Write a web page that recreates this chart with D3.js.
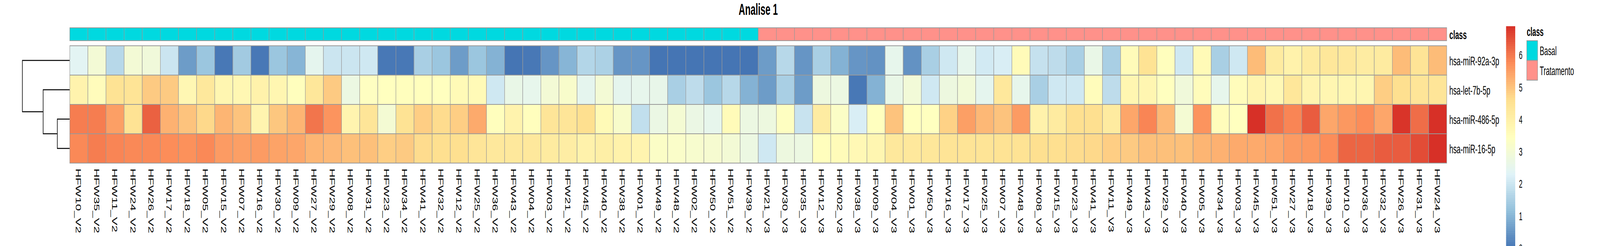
<!DOCTYPE html>
<html lang="en">
<head>
    <meta charset="UTF-8" />
    <script src="https://d3js.org/d3.v7.min.js"></script>
    <title>Analise 1</title>
    <style>
        body { margin: 0; background: white; overflow: hidden; }
        svg { display: block; }
        text { font-family: "Liberation Sans", Arial, sans-serif; fill: #000; }
        .cell { stroke: #999999; stroke-width: 2; }
        .tree { stroke: #000; stroke-width: 2.7; fill: none; }
    </style>
</head>
<body>
    <svg id="chart"></svg>
    <script>
        // samples, in the clustered column order
        const samples = [
            "HFW10_V2", "HFW35_V2", "HFW11_V2", "HFW24_V2", "HFW26_V2", "HFW17_V2", "HFW18_V2", "HFW05_V2",
            "HFW15_V2", "HFW07_V2", "HFW16_V2", "HFW30_V2", "HFW09_V2", "HFW27_V2", "HFW29_V2", "HFW08_V2",
            "HFW31_V2", "HFW23_V2", "HFW34_V2", "HFW41_V2", "HFW32_V2", "HFW12_V2", "HFW25_V2", "HFW36_V2",
            "HFW43_V2", "HFW04_V2", "HFW03_V2", "HFW21_V2", "HFW45_V2", "HFW40_V2", "HFW38_V2", "HFW01_V2",
            "HFW49_V2", "HFW48_V2", "HFW02_V2", "HFW50_V2", "HFW51_V2", "HFW39_V2", "HFW21_V3", "HFW30_V3",
            "HFW35_V3", "HFW12_V3", "HFW02_V3", "HFW38_V3", "HFW09_V3", "HFW04_V3", "HFW01_V3", "HFW50_V3",
            "HFW16_V3", "HFW17_V3", "HFW25_V3", "HFW07_V3", "HFW48_V3", "HFW08_V3", "HFW15_V3", "HFW23_V3",
            "HFW41_V3", "HFW11_V3", "HFW49_V3", "HFW43_V3", "HFW29_V3", "HFW40_V3", "HFW05_V3", "HFW34_V3",
            "HFW03_V3", "HFW45_V3", "HFW51_V3", "HFW27_V3", "HFW18_V3", "HFW39_V3", "HFW10_V3", "HFW36_V3",
            "HFW32_V3", "HFW26_V3", "HFW31_V3", "HFW24_V3"
        ];

        const mirnas = ["hsa-miR-92a-3p", "hsa-let-7b-5p", "hsa-miR-486-5p", "hsa-miR-16-5p"];

        // class levels: visit 2 = Basal, visit 3 = Tratamento
        const classLevels = ["Basal", "Tratamento"];
        const classColors = ["#00D9E0", "#FF918A"];

        // expression values, one array per miRNA (same order as samples)
        const mir92a = [
            2.4, 3.0, 1.7, 3.0, 2.9, 2.0, 0.6, 1.3, 0.05, 1.4, 0.05, 1.3, 1.0,
            2.5, 2.0, 2.0, 2.05, 0.05, 0.05, 1.5, 1.3, 0.6, 1.3, 0.95, 0.0, 0.05, 0.5, 1.0, 1.65,
            1.55, 0.5, 0.5, 0.0, 0.0, 0.0, 0.0, 0.0, 0.0, 0.6, 1.7, 0.5, 1.5, 0.95, 0.5, 0.45,
            2.55, 0.45, 1.5, 2.05, 2.55, 2.1, 2.2, 3.6, 1.9, 1.8, 1.5, 2.65, 1.5, 3.6, 4.5, 3.5,
            2.05, 3.65, 1.5, 2.05, 5.1, 4.2, 3.95, 4.2, 4.35, 4.3, 4.15, 4.2, 5.1, 4.45, 5.1
        ];
        const let7b = [
            3.9, 3.55, 4.5, 4.45, 4.9, 4.9, 3.75, 4.3, 3.8, 3.75, 3.95, 3.8, 3.5,
            4.35, 4.9, 2.75, 3.4, 3.45, 3.5, 3.5, 3.45, 3.65, 3.65, 2.05, 2.65, 2.55, 3.0, 3.2, 2.5,
            3.0, 2.5, 2.55, 2.6, 1.5, 1.8, 1.3, 1.7, 0.95, 0.6, 1.5, 0.6, 2.8, 2.75, 0.05, 0.95,
            2.65, 2.95, 2.05, 2.8, 2.95, 2.5, 4.3, 2.55, 1.5, 2.05, 2.05, 3.55, 1.8, 3.8, 3.8, 3.45,
            2.9, 3.55, 2.55, 3.55, 3.85, 3.7, 4.35, 3.85, 3.8, 3.8, 3.8, 4.85, 4.6, 4.4, 4.4
        ];
        const mir486 = [
            5.95, 5.95, 5.5, 4.5, 6.3, 5.25, 5.0, 4.7, 5.2, 5.0, 3.85, 4.95, 5.2,
            6.05, 5.65, 3.85, 4.4, 3.05, 4.5, 4.85, 4.65, 4.85, 5.35, 3.5, 3.9, 3.5, 4.4, 4.4, 4.6,
            3.65, 3.2, 1.85, 2.7, 3.05, 2.7, 2.55, 3.6, 2.75, 2.8, 3.4, 1.95, 4.15, 3.3, 2.2, 3.45,
            5.0, 3.45, 3.45, 4.8, 5.5, 5.15, 5.0, 5.55, 3.95, 4.2, 4.6, 4.6, 4.2, 5.4, 5.85, 5.15,
            3.05, 5.65, 3.55, 3.45, 6.9, 6.1, 5.85, 6.35, 5.4, 5.6, 5.75, 5.4, 6.85, 6.15, 6.9
        ];
        const mir16 = [
            5.8, 5.95, 5.85, 5.8, 5.8, 5.75, 5.7, 5.8, 5.55, 5.5, 5.55, 5.45, 5.4,
            5.2, 5.15, 5.05, 5.05, 4.85, 4.9, 4.65, 4.6, 4.6, 4.4, 4.3, 4.3, 4.3, 4.2, 4.1, 3.95,
            4.05, 3.95, 3.85, 3.3, 3.25, 3.15, 3.1, 3.0, 2.75, 2.05, 2.8, 2.75, 3.5, 3.6, 3.7, 3.8,
            4.3, 4.3, 4.35, 4.45, 4.45, 4.45, 4.5, 4.5, 4.6, 4.6, 4.65, 4.7, 4.85, 4.9, 5.05, 5.05,
            5.05, 5.2, 5.25, 5.35, 5.35, 5.4, 5.55, 5.6, 5.75, 6.25, 6.25, 6.35, 6.35, 6.55, 6.9
        ];
        const series = [mir92a, let7b, mir486, mir16];

        // row dendrogram: merges of row indices with their (relative) heights
        const rowMerges = [
            { left: 2, right: 3, height: 0.26 },
            { left: 1, right: "m0", height: 0.56 },
            { left: 0, right: "m1", height: 1.0 }
        ];

        const legendTicks = [0, 1, 2, 3, 4, 5, 6];

        // -------- layout --------
        // chart is laid out on a 7360 x 629 canvas and stretched to whatever the window is
        const W = 7360, H = 629;
        const svg = d3.select("#chart")
            .attr("width", window.innerWidth)
            .attr("height", window.innerHeight)
            .attr("viewBox", `0 0 ${W} ${H}`)
            .attr("preserveAspectRatio", "none");

        const left = 321, right = 6655;
        const annTop = 71, annBottom = 104;
        const hmTop = 117, hmBottom = 417;

        const x = d3.scaleBand().domain(samples).range([left, right]);
        const y = d3.scaleBand().domain(mirnas).range([hmTop, hmBottom]);

        // pheatmap default palette: rev(RdYlBu, 7) spread over the data range
        const allValues = series.flat();
        const [vmin, vmax] = d3.extent(allValues);
        const palette = ["#4575B4", "#91BFDB", "#E0F3F8", "#FFFFBF", "#FEE090", "#FC8D59", "#D73027"];
        const color = d3.scaleLinear()
            .domain(palette.map((_, i) => vmin + i * (vmax - vmin) / (palette.length - 1)))
            .range(palette)
            .interpolate(d3.interpolateRgb);

        const classOf = s => s.endsWith("_V2") ? classLevels[0] : classLevels[1];
        const classColor = d3.scaleOrdinal().domain(classLevels).range(classColors);

        // title
        svg.append("text")
            .attr("x", (left + right) / 2)
            .attr("y", 38)
            .attr("text-anchor", "middle")
            .style("font-size", "41px")
            .style("font-weight", "bold")
            .text("Analise 1");

        // annotation bar
        svg.append("g").selectAll("rect")
            .data(samples)
            .join("rect")
            .attr("class", "cell")
            .attr("x", d => x(d))
            .attr("y", annTop)
            .attr("width", x.bandwidth())
            .attr("height", annBottom - annTop)
            .attr("fill", d => classColor(classOf(d)));

        svg.append("text")
            .attr("x", right + 12)
            .attr("y", (annTop + annBottom) / 2 + 13)
            .style("font-size", "32px")
            .style("font-weight", "bold")
            .text("class");

        // heatmap cells
        const cells = [];
        mirnas.forEach((m, r) => samples.forEach((s, c) => cells.push({ m, s, v: series[r][c] })));

        svg.append("g").selectAll("rect")
            .data(cells)
            .join("rect")
            .attr("class", "cell")
            .attr("x", d => x(d.s))
            .attr("y", d => y(d.m))
            .attr("width", x.bandwidth())
            .attr("height", y.bandwidth())
            .attr("fill", d => color(d.v));

        // row labels
        svg.append("g").selectAll("text")
            .data(mirnas)
            .join("text")
            .attr("x", right + 12)
            .attr("y", d => y(d) + y.bandwidth() / 2 + 13)
            .style("font-size", "32px")
            .text(d => d);

        // column labels (rotated)
        svg.append("g").selectAll("text")
            .data(samples)
            .join("text")
            .attr("transform", d => `translate(${x(d) + x.bandwidth() / 2 - 2},431) rotate(90)`)
            .attr("dy", "0.35em")
            .style("font-size", "32px")
            .text(d => d);

        // row dendrogram
        const treeX = d3.scaleLinear().domain([0, 1]).range([left - 1, 103]);
        const nodes = {};
        mirnas.forEach((m, i) => nodes[i] = { y: y(m) + y.bandwidth() / 2, h: 0 });
        const tree = svg.append("g");
        rowMerges.forEach((mg, i) => {
            const a = nodes[mg.left], b = nodes[mg.right];
            const xm = treeX(mg.height);
            tree.append("path")
                .attr("class", "tree")
                .attr("d", `M${treeX(a.h)},${a.y}H${xm}V${b.y}H${treeX(b.h)}`);
            nodes["m" + i] = { y: (a.y + b.y) / 2, h: mg.height };
        });

        // colour legend
        const legX = 6928, legW = 42;
        const legY = d3.scaleLinear().domain([vmin, vmax]).range([67 + (vmax - vmin) * 82.3, 67]);
        const steps = d3.range(0, 100).map(i => vmin + (i + 0.5) * (vmax - vmin) / 100);
        const stepH = (legY(vmin) - legY(vmax)) / 100;
        svg.append("g").selectAll("rect")
            .data(steps)
            .join("rect")
            .attr("x", legX)
            .attr("y", d => legY(d) - stepH / 2)
            .attr("width", legW)
            .attr("height", stepH + 0.6)
            .attr("fill", d => color(d));

        svg.append("g").selectAll("text")
            .data(legendTicks)
            .join("text")
            .attr("x", legX + legW + 17)
            .attr("y", d => legY(d))
            .attr("dy", "0.35em")
            .style("font-size", "29px")
            .text(d => d);

        // class legend
        const boxX = 7023, boxTop = 104, boxH = 50.5;
        svg.append("text")
            .attr("x", boxX)
            .attr("y", 92)
            .style("font-size", "31px")
            .style("font-weight", "bold")
            .text("class");

        const lg = svg.append("g");
        lg.selectAll("rect")
            .data(classLevels)
            .join("rect")
            .attr("class", "cell")
            .attr("x", boxX)
            .attr("y", (d, i) => boxTop + i * boxH)
            .attr("width", 50)
            .attr("height", boxH)
            .attr("fill", d => classColor(d));
        lg.selectAll("text")
            .data(classLevels)
            .join("text")
            .attr("x", boxX + 60)
            .attr("y", (d, i) => boxTop + i * boxH + boxH / 2 + 12)
            .style("font-size", "31px")
            .text(d => d);
    </script>
</body>
</html>
